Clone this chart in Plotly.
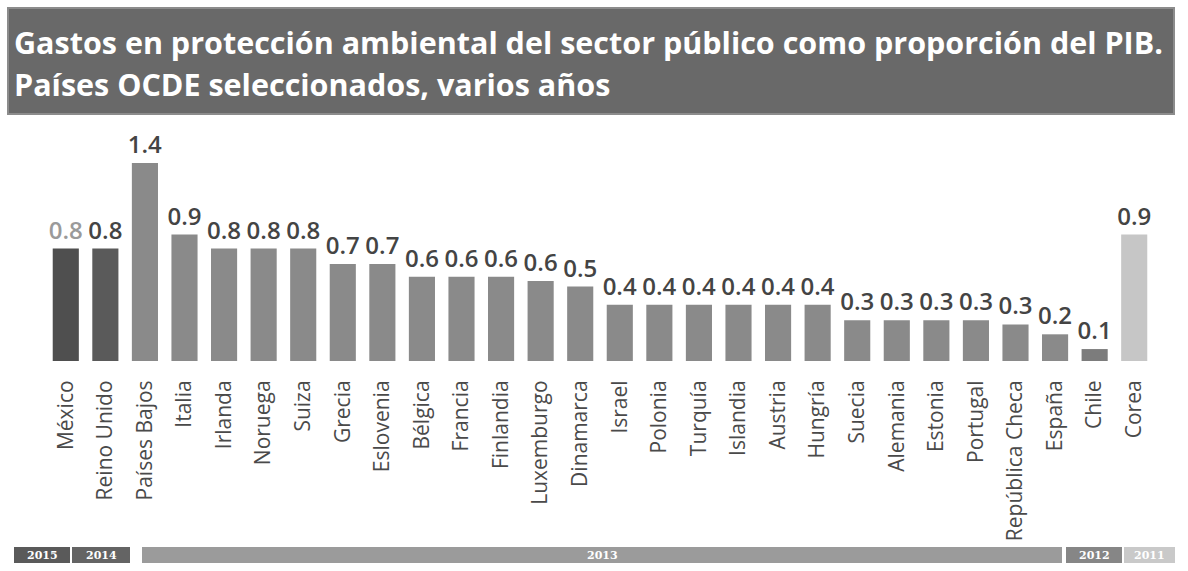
import plotly.graph_objects as go

# Public-sector environmental protection spending, % of GDP
paises = ["México", "Reino Unido", "Países Bajos", "Italia", "Irlanda", "Noruega",
          "Suiza", "Grecia", "Eslovenia", "Bélgica", "Francia", "Finlandia",
          "Luxemburgo", "Dinamarca", "Israel", "Polonia", "Turquía", "Islandia",
          "Austria", "Hungría", "Suecia", "Alemania", "Estonia", "Portugal",
          "República Checa", "España", "Chile", "Corea"]
gasto_pib = [0.80, 0.80, 1.41, 0.90, 0.80, 0.80,
             0.80, 0.69, 0.69, 0.60, 0.60, 0.60,
             0.57, 0.53, 0.40, 0.40, 0.40, 0.40,
             0.40, 0.40, 0.29, 0.29, 0.29, 0.29,
             0.26, 0.19, 0.085, 0.90]
# Reference year shown in the strip under the axis
anios = ["2015", "2014", "2013", "2012", "2011"]

W, H = 1188, 571
M_L, M_R, M_T, M_B = 46, 34, 140, 210

bar_colors = (["#4f4f4f", "#5a5a5a"] + ["#8a8a8a"] * 24 + ["#7c7c7c", "#c6c6c6"])
label_colors = ["#9a9a9a"] + ["#444444"] * 27

fig = go.Figure(go.Bar(
    x=paises, y=gasto_pib,
    marker=dict(color=bar_colors, line=dict(width=0)),
    texttemplate="%{y:.1f}", textposition="outside", constraintext="none",
    textfont=dict(family="Open Sans", size=24, color=label_colors, weight=600),
    cliponaxis=False,
))

def px_x(px):
    return (px - M_L) / (W - M_L - M_R)

def px_y(py):
    return (H - M_B - py) / (H - M_T - M_B)

shapes = []
annotations = []

# Title banner
shapes.append(dict(type="rect", xref="paper", yref="paper",
                   x0=px_x(8), x1=px_x(1174), y0=px_y(114), y1=px_y(8),
                   fillcolor="#696969", line=dict(color="#8c8c8c", width=2), layer="below"))
for txt, cy in [("Gastos en protección ambiental del sector público como proporción del PIB.", 42),
                ("Países OCDE seleccionados, varios años", 84)]:
    annotations.append(dict(text=txt, xref="paper", yref="paper", x=px_x(12), y=px_y(cy),
                            xanchor="left", yanchor="middle", showarrow=False,
                            font=dict(family="Open Sans", size=30.5, color="white", weight=700)))

# Year strip
bands = [(14, 70, "#5a5a5a"), (72, 130, "#646464"), (142, 1062, "#9b9b9b"),
         (1066, 1122, "#868686"), (1124, 1175, "#c9c9c9")]
for (x0, x1, col), yr in zip(bands, anios):
    shapes.append(dict(type="rect", xref="paper", yref="paper",
                       x0=px_x(x0), x1=px_x(x1), y0=px_y(563), y1=px_y(547),
                       fillcolor=col, line=dict(width=0)))
    annotations.append(dict(text="<b>" + yr + "</b>", xref="paper", yref="paper",
                            x=px_x((x0 + x1) / 2), y=px_y(555), xanchor="center", yanchor="middle",
                            showarrow=False,
                            font=dict(family="DejaVu Serif", size=11, color="white")))

fig.update_layout(
    width=W, height=H,
    margin=dict(l=M_L, r=M_R, t=M_T, b=M_B, pad=0),
    paper_bgcolor="white", plot_bgcolor="white",
    bargap=0.34, showlegend=False,
    shapes=shapes, annotations=annotations,
    xaxis=dict(tickangle=-90, showgrid=False, showline=False, zeroline=False,
               ticks="outside", ticklen=10, tickcolor="rgba(0,0,0,0)",
               tickfont=dict(family="Open Sans", size=21, color="#4a4a4a")),
    yaxis=dict(range=[0, 1.573], visible=False),
)

fig.write_html("out.html")
